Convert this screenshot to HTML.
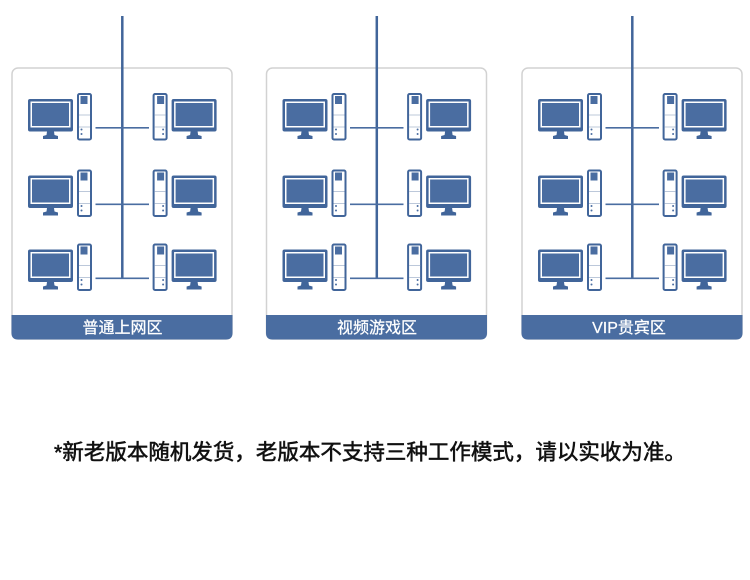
<!DOCTYPE html>
<html>
<head>
<meta charset="utf-8">
<style>
  html, body { margin:0; padding:0; background:#ffffff; }
  body { width:750px; height:580px; overflow:hidden; }
  svg { display:block; }
</style>
</head>
<body>
<svg width="750" height="580" viewBox="0 0 750 580" xmlns="http://www.w3.org/2000/svg">
  <defs>
    <g id="pc">
      <rect x="28" y="6" width="45" height="32.5" rx="2" fill="#41659a"/>
      <rect x="30.5" y="8.5" width="40" height="26" fill="#ffffff"/>
      <rect x="32" y="10" width="37" height="23" fill="#4a6da1"/>
      <path d="M47 38.5 L54 38.5 L54.5 42 L58 43 L58 46 L43 46 L43 43 L46.5 42 Z" fill="#41659a"/>
      <rect x="78" y="1" width="13" height="45.5" rx="1.5" fill="#ffffff" stroke="#41659a" stroke-width="2"/>
      <rect x="80.5" y="3" width="7" height="8" fill="#4a6da1"/>
      <line x1="79" y1="22" x2="90" y2="22" stroke="#bcc8da" stroke-width="1"/>
      <line x1="79" y1="34" x2="90" y2="34" stroke="#bcc8da" stroke-width="1"/>
      <circle cx="81.5" cy="36.5" r="1" fill="#4a6da1"/>
      <circle cx="81.5" cy="41" r="1" fill="#4a6da1"/>
    </g>
    <g id="row">
      <use href="#pc"/>
      <use href="#pc" transform="translate(244.6,0) scale(-1,1)"/>
      <line x1="95.5" y1="34.8" x2="149" y2="34.8" stroke="#4a6da1" stroke-width="1.6"/>
    </g>
    <g id="panel">
      <rect x="12" y="68" width="220" height="271" rx="6" fill="#ffffff" stroke="#d2d2d2" stroke-width="1.5"/>
      <path d="M11.5 315 L232.5 315 L232.5 333 Q232.5 339.5 226 339.5 L18 339.5 Q11.5 339.5 11.5 333 Z" fill="#4a6da1"/>
      <line x1="122.3" y1="16" x2="122.3" y2="279" stroke="#41659a" stroke-width="2.5"/>
      <use href="#row" transform="translate(0,93)"/>
      <use href="#row" transform="translate(0,169.5)"/>
      <use href="#row" transform="translate(0,243.5)"/>
    </g>
  </defs>

  <use href="#panel"/>
  <use href="#panel" transform="translate(254.5,0)"/>
  <use href="#panel" transform="translate(510,0)"/>

  <g font-family="'Liberation Sans','Noto Sans CJK SC',sans-serif" font-size="16" fill="#ffffff" stroke="#ffffff" stroke-width="0.25" text-anchor="middle">
    <text x="122.5" y="333">普通上网区</text>
    <text x="377" y="333">视频游戏区</text>
    <text x="629" y="333">VIP贵宾区</text>
  </g>

  <text x="54" y="459.5" font-family="'Liberation Sans','Noto Sans CJK SC',sans-serif" font-size="21.5" fill="#111111" stroke="#111111" stroke-width="0.55">*新老版本随机发货，老版本不支持三种工作模式，请以实收为准。</text>
</svg>
</body>
</html>
